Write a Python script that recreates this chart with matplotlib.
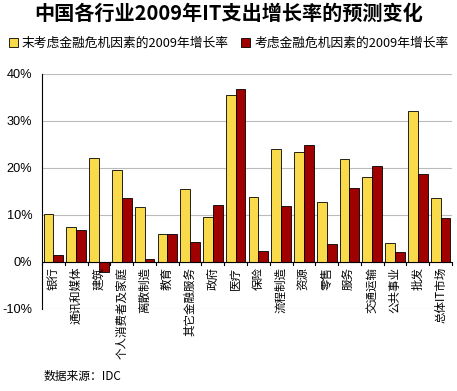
import numpy as np
import matplotlib
matplotlib.use("Agg")
import matplotlib.pyplot as plt
from matplotlib.patches import Patch

plt.rcParams["font.family"] = ["Noto Sans CJK SC", "DejaVu Sans"]

categories = ["银行", "通讯和媒体", "建筑", "个人消费者及家庭", "离散制造", "教育",
              "其它金融服务", "政府", "医疗", "保险", "流程制造", "资源", "零售",
              "服务", "交通运输", "公共事业", "批发", "总体IT市场"]
no_crisis = [10.2, 7.4, 22.1, 19.6, 11.7, 6.0, 15.5, 9.6, 35.6, 13.9, 24.0, 23.4,
             12.8, 21.9, 18.1, 4.0, 32.1, 13.6]
with_crisis = [1.4, 6.8, -2.1, 13.7, 0.6, 6.0, 4.3, 12.0, 36.8, 2.3, 11.8, 24.9,
               3.8, 15.8, 20.4, 2.0, 18.8, 9.4]
yticks = [-10, 0, 10, 20, 30, 40]
label_a = "末考虑金融危机因素的2009年增长率"
label_b = "考虑金融危机因素的2009年增长率"
yellow = "#F9DA4A"
red = "#A00000"

fig = plt.figure(figsize=(4.57, 3.91), dpi=100)
ax = fig.add_axes([0.092, 0.21, 0.897, 0.601])

x = np.arange(len(categories))
w = 0.43
ax.bar(x - w / 2, no_crisis, w, color=yellow, edgecolor="black", linewidth=0.6, zorder=3)
ax.bar(x + w / 2, with_crisis, w, color=red, edgecolor="black", linewidth=0.6, zorder=3)

ax.set_xlim(-0.5, len(categories) - 0.5)
ax.set_ylim(-10, 40)
ax.set_yticks(yticks)
ax.set_yticklabels([f"{v}%" for v in yticks], family="Liberation Sans", fontsize=9.2)
ax.yaxis.grid(True, color="#BBBBBB", linewidth=0.8, zorder=0)
ax.tick_params(axis="y", length=0, pad=7)

for s in ["top", "right", "bottom"]:
    ax.spines[s].set_visible(False)
ax.spines["left"].set_color("black")
ax.spines["left"].set_linewidth(0.8)

# category axis at zero
ax.axhline(0, color="black", linewidth=0.8, zorder=4)
ax.set_xticks(x)
ax.set_xticklabels([])
ax.tick_params(axis="x", length=0)
for b in np.arange(-0.5, len(categories), 1.0):
    ax.plot([b, b], [0, -0.7], color="black", linewidth=0.8, zorder=4, clip_on=False)
for xi, name in zip(x, categories):
    ax.text(xi, -1.0, name, rotation=90, ha="center", va="top", fontsize=8.3,
            zorder=5)

fig.text(0.5, 0.966, "中国各行业2009年IT支出增长率的预测变化", ha="center", va="center",
         fontsize=14.5, fontweight="bold")

handles = [Patch(facecolor=yellow, edgecolor="black", linewidth=0.6),
           Patch(facecolor=red, edgecolor="black", linewidth=0.6)]
fig.legend(handles, [label_a, label_b], loc="center", bbox_to_anchor=(0.5, 0.888),
           ncol=2, frameon=False, fontsize=9.2, handlelength=0.7, handleheight=0.7,
           handletextpad=0.3, columnspacing=1.0, borderaxespad=0, borderpad=0)

fig.text(0.095, 0.02, "数据来源：IDC", fontsize=8.5, style="italic", ha="left", va="bottom")

fig.savefig("out.png", dpi=100)
